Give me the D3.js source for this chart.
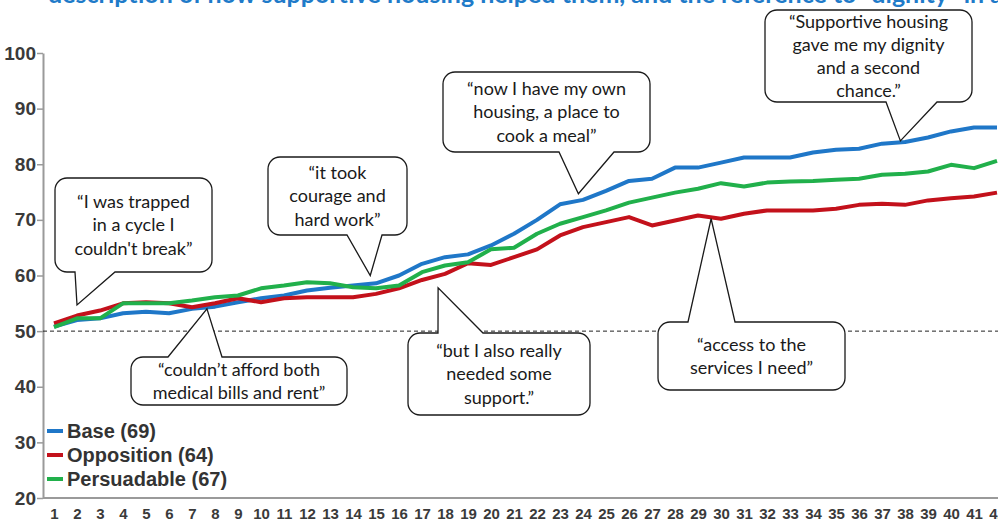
<!DOCTYPE html>
<html>
<head>
<meta charset="utf-8">
<script src="https://cdn.jsdelivr.net/npm/d3@7"></script>
<style>
    body { margin: 0; background: #fff; }
    svg { display: block; }
</style>
</head>
<body>
<svg id="chart"></svg>
<script>
// dial-test waves (x axis)
const waves = d3.range(1, 43);

// mean dial score per wave
const baseValues = [50.8, 52.0, 52.3, 53.2, 53.5, 53.2, 54.0, 54.4, 55.2, 55.9,
    56.4, 57.3, 57.8, 58.2, 58.6, 60.0, 62.1, 63.3, 63.8, 65.4,
    67.5, 70.0, 72.8, 73.6, 75.2, 77.0, 77.4, 79.4, 79.4, 80.3,
    81.2, 81.2, 81.2, 82.1, 82.6, 82.8, 83.7, 84.0, 84.8, 85.9, 86.6, 86.6];
const oppositionValues = [51.4, 52.8, 53.7, 55.0, 55.2, 55.0, 54.3, 55.0, 55.9, 55.2,
    55.9, 56.1, 56.1, 56.1, 56.7, 57.7, 59.2, 60.3, 62.2, 61.9,
    63.3, 64.7, 67.2, 68.7, 69.6, 70.5, 69.0, 69.9, 70.8, 70.2,
    71.1, 71.7, 71.7, 71.7, 72.0, 72.7, 72.9, 72.7, 73.5, 73.9, 74.2, 74.9];
const persuadableValues = [50.7, 52.3, 52.3, 55.0, 55.0, 55.0, 55.5, 56.1, 56.4, 57.7,
    58.2, 58.8, 58.6, 57.9, 57.7, 58.2, 60.6, 61.8, 62.4, 64.7,
    65.0, 67.5, 69.3, 70.5, 71.7, 73.1, 74.0, 74.9, 75.6, 76.6,
    76.0, 76.7, 76.9, 77.0, 77.2, 77.4, 78.1, 78.3, 78.7, 79.9, 79.3, 80.6];

const seriesNames = ["Base (69)", "Opposition (64)", "Persuadable (67)"];
const seriesColors = ["#1f77c8", "#c3111b", "#21b04b"];

const yTicks = [20, 30, 40, 50, 60, 70, 80, 90, 100];
const referenceValue = 50;

const titleText = "description of how supportive housing helped them, and the reference to “dignity” in a";

// quotes and the [wave, value] each pointer touches
const quotes = [
    ["“I was trapped", "in a cycle I", "couldn't break”"],
    ["“it took", "courage and", "hard work”"],
    ["“couldn’t afford both", "medical bills and rent”"],
    ["“but I also really", "needed some", "support.”"],
    ["“now I have my own", "housing, a place to", "cook a meal”"],
    ["“Supportive housing", "gave me my dignity", "and a second", "chance.”"],
    ["“access to the", "services I need”"],
];
const quoteTargets = [[2, 54.7], [14.75, 60.0], [7.65, 54.0], [17.7, 57.8], [23.8, 74.7], [37.8, 84.2], [29.57, 70.2]];

// callout box layout (px): left, top, right, bottom, pointer base x0/x1, side
const calloutLayout = [
    { l: 55, t: 178, r: 212, b: 272, x0: 75, x1: 115, side: "bottom" },
    { l: 268, t: 157, r: 407, b: 235, x0: 347, x1: 382, side: "bottom" },
    { l: 131, t: 357, r: 347, b: 405, x0: 168, x1: 222, side: "top" },
    { l: 408, t: 333, r: 590, b: 415, x0: 438, x1: 483, side: "top" },
    { l: 443, t: 72, r: 650, b: 152, x0: 559, x1: 614, side: "bottom" },
    { l: 765, t: 10, r: 972, b: 102, x0: 886, x1: 937, side: "bottom" },
    { l: 658, t: 322, r: 845, b: 390, x0: 688, x1: 735, side: "top" },
];

const width = 998, height = 525;
const axisX = 43;

const svg = d3.select("#chart")
    .attr("width", width)
    .attr("height", height);

const x = d3.scaleLinear().domain([1, 42]).range([54, 997]);
const y = d3.scaleLinear().domain([20, 100]).range([498, 53]);

// cut-off title strip at the very top
svg.append("text")
    .attr("x", 48)
    .attr("y", 3)
    .attr("font-family", "Lato, 'Open Sans', sans-serif")
    .attr("font-weight", "bold")
    .attr("font-size", 25)
    .attr("fill", "#1f7bc9")
    .text(titleText);

// y axis
const yAxis = svg.append("g")
    .attr("transform", `translate(${axisX},0)`)
    .call(d3.axisLeft(y).tickValues(yTicks).tickSize(6).tickSizeOuter(0).tickPadding(1));
yAxis.select(".domain").attr("stroke", "#9a9a9a").attr("stroke-width", 2);
yAxis.selectAll(".tick line").attr("stroke", "#9a9a9a").attr("stroke-width", 1.5);
yAxis.selectAll(".tick text")
    .attr("font-family", "'Liberation Sans', Arial, sans-serif")
    .attr("font-weight", "bold")
    .attr("font-size", 19)
    .attr("fill", "#3a3a3a");

// x axis
const xAxis = svg.append("g")
    .attr("transform", `translate(0,${y(20)})`)
    .call(d3.axisBottom(x).tickValues(waves).tickFormat(d3.format("d")).tickSize(0).tickPadding(10));
xAxis.select(".domain").remove();
xAxis.selectAll(".tick text")
    .attr("font-family", "'Liberation Sans', Arial, sans-serif")
    .attr("font-weight", "bold")
    .attr("font-size", 15)
    .attr("fill", "#3a3a3a");

svg.append("line")
    .attr("x1", axisX).attr("x2", width)
    .attr("y1", y(20)).attr("y2", y(20))
    .attr("stroke", "#9a9a9a")
    .attr("stroke-width", 2);

// 50 reference line
svg.append("line")
    .attr("x1", axisX).attr("x2", width)
    .attr("y1", y(referenceValue)).attr("y2", y(referenceValue))
    .attr("stroke", "#222")
    .attr("stroke-width", 1)
    .attr("stroke-dasharray", "4,3");

// series lines
const series = [baseValues, oppositionValues, persuadableValues];
const line = d3.line()
    .x((d, i) => x(waves[i]))
    .y((d) => y(d));

svg.append("g")
    .selectAll("path")
    .data(series)
    .join("path")
    .attr("d", line)
    .attr("fill", "none")
    .attr("stroke", (d, i) => seriesColors[i])
    .attr("stroke-width", 4)
    .attr("stroke-linejoin", "round");

// legend
const legend = svg.append("g")
    .selectAll("g")
    .data(seriesNames)
    .join("g")
    .attr("transform", (d, i) => `translate(47,${431 + i * 24})`);

legend.append("line")
    .attr("x1", 0).attr("x2", 16)
    .attr("stroke", (d, i) => seriesColors[i])
    .attr("stroke-width", 4);

legend.append("text")
    .attr("x", 20)
    .attr("dy", "0.36em")
    .attr("font-family", "'Liberation Sans', Arial, sans-serif")
    .attr("font-weight", "bold")
    .attr("font-size", 20)
    .attr("fill", "#333")
    .text((d) => d);

// speech-bubble callouts
function bubblePath(box, tip) {
    const rr = 12;
    const { l, t, r, b, x0, x1, side } = box;
    const top = side === "top"
        ? `H${x0}L${tip[0]},${tip[1]}L${x1},${t}H${r - rr}`
        : `H${r - rr}`;
    const bottom = side === "bottom"
        ? `H${x1}L${tip[0]},${tip[1]}L${x0},${b}H${l + rr}`
        : `H${l + rr}`;
    return `M${l + rr},${t}${top}A${rr},${rr} 0 0 1 ${r},${t + rr}V${b - rr}` +
        `A${rr},${rr} 0 0 1 ${r - rr},${b}${bottom}A${rr},${rr} 0 0 1 ${l},${b - rr}` +
        `V${t + rr}A${rr},${rr} 0 0 1 ${l + rr},${t}Z`;
}

const callouts = svg.append("g")
    .selectAll("g")
    .data(quotes)
    .join("g");

callouts.append("path")
    .attr("d", (d, i) => {
        const target = quoteTargets[i];
        return bubblePath(calloutLayout[i], [x(target[0]), y(target[1])]);
    })
    .attr("fill", "#fff")
    .attr("stroke", "#1a1a1a")
    .attr("stroke-width", 1.3)
    .attr("stroke-linejoin", "miter");

callouts.each(function (lines, i) {
    const box = calloutLayout[i];
    const lineGap = 23.2;
    const cy = (box.t + box.b) / 2 - (lines.length - 1) * lineGap / 2;
    d3.select(this).append("g")
        .selectAll("text")
        .data(lines)
        .join("text")
        .attr("x", (box.l + box.r) / 2)
        .attr("y", (d, j) => cy + j * lineGap)
        .attr("dy", "0.35em")
        .attr("text-anchor", "middle")
        .attr("font-family", "Lato, 'Open Sans', sans-serif")
        .attr("font-size", 18)
        .attr("fill", "#1a1a1a")
        .text((d) => d);
});
</script>
</body>
</html>
